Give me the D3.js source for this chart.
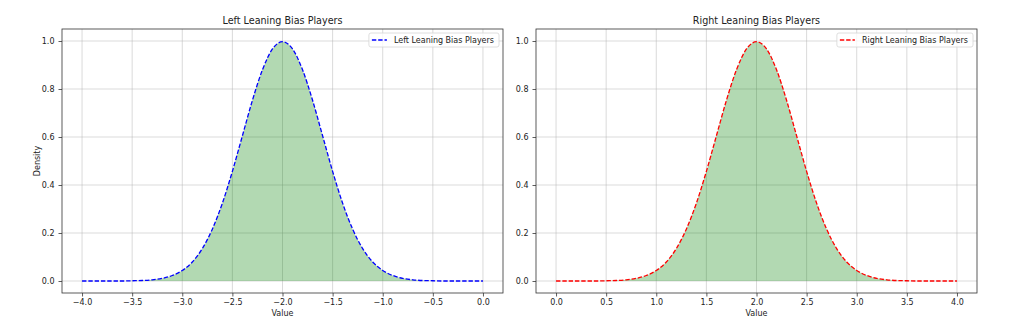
<!DOCTYPE html>
<html>
<head>
<meta charset="utf-8">
<script src="https://cdn.jsdelivr.net/npm/d3@7"></script>
<style>
  html, body { margin: 0; padding: 0; background: #fff; }
  text { font-family: "DejaVu Sans", sans-serif; fill: #222; }
</style>
</head>
<body>
<svg id="chart" width="1024" height="325"></svg>
<script>
// values
const leftX = [-4.0, -3.9, -3.8, -3.7, -3.6, -3.5, -3.4, -3.3, -3.2, -3.1, -3.0, -2.9, -2.8, -2.7, -2.6, -2.5, -2.4, -2.3, -2.2, -2.1,
  -2.0, -1.9, -1.8, -1.7, -1.6, -1.5, -1.4, -1.3, -1.2, -1.1, -1.0, -0.9, -0.8, -0.7, -0.6, -0.5, -0.4, -0.3, -0.2, -0.1, 0.0];
const leftY = [0.000, 0.000, 0.000, 0.000, 0.000, 0.001, 0.002, 0.005, 0.011, 0.023, 0.044, 0.079, 0.135, 0.216, 0.324, 0.457, 0.605, 0.753, 0.880, 0.967,
  0.997, 0.967, 0.880, 0.753, 0.605, 0.457, 0.324, 0.216, 0.135, 0.079, 0.044, 0.023, 0.011, 0.005, 0.002, 0.001, 0.000, 0.000, 0.000, 0.000, 0.000];
const rightX = [0.0, 0.1, 0.2, 0.3, 0.4, 0.5, 0.6, 0.7, 0.8, 0.9, 1.0, 1.1, 1.2, 1.3, 1.4, 1.5, 1.6, 1.7, 1.8, 1.9,
  2.0, 2.1, 2.2, 2.3, 2.4, 2.5, 2.6, 2.7, 2.8, 2.9, 3.0, 3.1, 3.2, 3.3, 3.4, 3.5, 3.6, 3.7, 3.8, 3.9, 4.0];
const rightY = [0.000, 0.000, 0.000, 0.000, 0.000, 0.001, 0.002, 0.005, 0.011, 0.023, 0.044, 0.079, 0.135, 0.216, 0.324, 0.457, 0.605, 0.753, 0.880, 0.967,
  0.997, 0.967, 0.880, 0.753, 0.605, 0.457, 0.324, 0.216, 0.135, 0.079, 0.044, 0.023, 0.011, 0.005, 0.002, 0.001, 0.000, 0.000, 0.000, 0.000, 0.000];

const leftTicks = [-4.0, -3.5, -3.0, -2.5, -2.0, -1.5, -1.0, -0.5, 0.0];
const rightTicks = [0.0, 0.5, 1.0, 1.5, 2.0, 2.5, 3.0, 3.5, 4.0];
const yTicks = [0.0, 0.2, 0.4, 0.6, 0.8, 1.0];

const panels = [
  { title: "Left Leaning Bias Players", xs: leftX, ys: leftY, ticks: leftTicks,
    domain: [-4.2, 0.2], color: "#0000ff", left: 62, right: 503, ylabel: "Density" },
  { title: "Right Leaning Bias Players", xs: rightX, ys: rightY, ticks: rightTicks,
    domain: [-0.2, 4.2], color: "#ff0000", left: 536, right: 977, ylabel: null }
];

const plotTop = 29, plotBottom = 293;
const svg = d3.select("#chart");
const fmt = d3.format(".1f");
const minusFmt = v => fmt(v).replace("-", "\u2212");

panels.forEach(p => {
  const x = d3.scaleLinear().domain(p.domain).range([p.left, p.right]);
  const y = d3.scaleLinear().domain([-0.05, 1.05]).range([plotBottom, plotTop]);
  const g = svg.append("g");
  const pts = p.xs.map((v, i) => ({ x: v, y: p.ys[i] }));

  // grid
  g.append("g").selectAll("line").data(p.ticks).enter().append("line")
    .attr("x1", d => x(d)).attr("x2", d => x(d))
    .attr("y1", plotTop).attr("y2", plotBottom)
    .attr("stroke", "#b0b0b0").attr("stroke-opacity", 0.6).attr("stroke-width", 0.8);
  g.append("g").selectAll("line").data(yTicks).enter().append("line")
    .attr("x1", p.left).attr("x2", p.right)
    .attr("y1", d => y(d)).attr("y2", d => y(d))
    .attr("stroke", "#b0b0b0").attr("stroke-opacity", 0.6).attr("stroke-width", 0.8);

  // filled area
  const area = d3.area().x(d => x(d.x)).y0(y(0)).y1(d => y(d.y)).curve(d3.curveMonotoneX);
  g.append("path").datum(pts).attr("d", area)
    .attr("fill", "#008000").attr("fill-opacity", 0.3);

  // dashed line
  const line = d3.line().x(d => x(d.x)).y(d => y(d.y)).curve(d3.curveMonotoneX);
  g.append("path").datum(pts).attr("d", line)
    .attr("fill", "none").attr("stroke", p.color)
    .attr("stroke-width", 1.3).attr("stroke-dasharray", "4.4,1.9");

  // axes
  const xAxis = d3.axisBottom(x).tickValues(p.ticks).tickFormat(minusFmt).tickSize(3.5).tickPadding(3);
  const yAxis = d3.axisLeft(y).tickValues(yTicks).tickFormat(fmt).tickSize(3.5).tickPadding(4);
  const xg = g.append("g").attr("transform", `translate(0,${plotBottom})`).call(xAxis);
  const yg = g.append("g").attr("transform", `translate(${p.left},0)`).call(yAxis);
  [xg, yg].forEach(a => {
    a.select(".domain").remove();
    a.selectAll(".tick line").attr("stroke", "#333").attr("stroke-width", 0.8);
    a.selectAll(".tick text").attr("font-size", 8).attr("fill", "#222")
      .attr("font-family", "DejaVu Sans, sans-serif");
  });

  // frame
  g.append("rect").attr("x", p.left).attr("y", plotTop)
    .attr("width", p.right - p.left).attr("height", plotBottom - plotTop)
    .attr("fill", "none").attr("stroke", "#333").attr("stroke-width", 0.8);

  // title and labels
  const cx = (p.left + p.right) / 2;
  g.append("text").attr("x", cx).attr("y", 24).attr("text-anchor", "middle")
    .attr("font-size", 9.6).text(p.title);
  g.append("text").attr("x", cx).attr("y", 316).attr("text-anchor", "middle")
    .attr("font-size", 8).text("Value");
  if (p.ylabel) {
    g.append("text").attr("transform", `translate(40,${(plotTop + plotBottom) / 2}) rotate(-90)`)
      .attr("text-anchor", "middle").attr("font-size", 8).text(p.ylabel);
  }

  // legend
  const lg = g.append("g");
  const box = lg.append("rect");
  const label = lg.append("text").attr("font-size", 8).text(p.title);
  const tw = label.node().getComputedTextLength();
  const bw = tw + 30, bh = 14;
  const bx = p.right - 4 - bw, by = plotTop + 4;
  box.attr("x", bx).attr("y", by).attr("width", bw).attr("height", bh)
    .attr("rx", 2).attr("fill", "#fff").attr("fill-opacity", 0.8)
    .attr("stroke", "#d6d6d6").attr("stroke-width", 0.8);
  lg.append("line").attr("x1", bx + 3).attr("x2", bx + 18)
    .attr("y1", by + bh / 2).attr("y2", by + bh / 2)
    .attr("stroke", p.color).attr("stroke-width", 1.3).attr("stroke-dasharray", "4.4,1.9");
  label.attr("x", bx + 25).attr("y", by + bh / 2 + 3);
});
</script>
</body>
</html>
